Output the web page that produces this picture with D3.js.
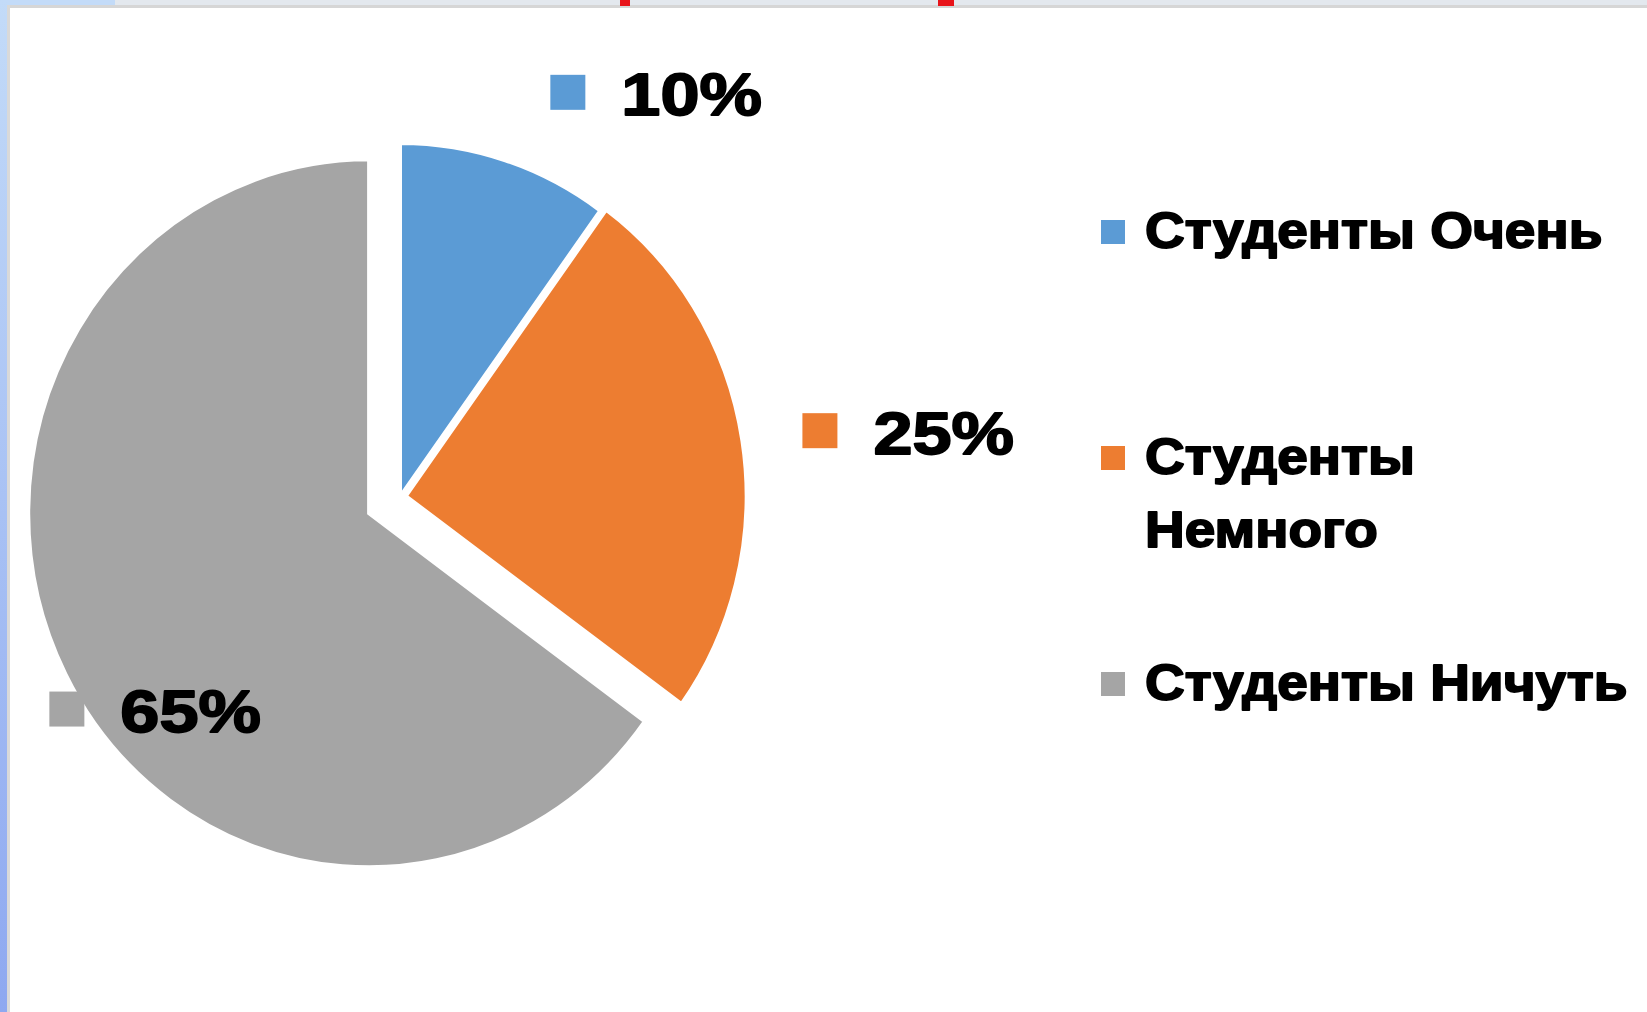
<!DOCTYPE html>
<html><head><meta charset="utf-8">
<script src="https://cdn.jsdelivr.net/npm/d3@7"></script>
<style>body{margin:0;background:#fff;overflow:hidden}svg{display:block}</style>
</head><body><svg id="c" width="1647" height="1012"></svg>
<script>
// ---- data ----
const categories = ["Студенты Очень", "Студенты Немного", "Студенты Ничуть"];
const values = [10, 25, 65];
const labelTexts = ["10%", "25%", "65%"];
const colors = ["#5b9bd5", "#ed7d31", "#a5a5a5"];

// ---- layout / style ----
const W = 1647, H = 1012;
const cx = 400, cy = 497, R = 354, sx = 0.963;
const explode = [0, 6, 36];
const labelOffsets = [[45, -68], [60, -10], [-16, 35]];
const legendX = 1101, legendTextX = 1145, legendRowY = [248, 474, 700], legendLineH = 73;

const svg = d3.select("#c");

// frame decorations (slide background)
const defs = svg.append("defs");
const g1 = defs.append("linearGradient").attr("id", "lb").attr("x1", 0).attr("y1", 0).attr("x2", 0).attr("y2", 1);
g1.append("stop").attr("offset", "0").attr("stop-color", "#c3dbf8");
g1.append("stop").attr("offset", "1").attr("stop-color", "#8ea8f0");
svg.append("rect").attr("x", 0).attr("y", 0).attr("width", W).attr("height", H).attr("fill", "#fff");
svg.append("rect").attr("x", 0).attr("y", 0).attr("width", W).attr("height", 5).attr("fill", "#e3e8ee");
svg.append("rect").attr("x", 0).attr("y", 0).attr("width", 115).attr("height", 5).attr("fill", "#c3dbf8");
svg.append("rect").attr("x", 0).attr("y", 5).attr("width", W).attr("height", 3).attr("fill", "#d6d6d6");
svg.append("rect").attr("x", 620).attr("y", 0).attr("width", 10).attr("height", 6).attr("fill", "#e8141a");
svg.append("rect").attr("x", 938).attr("y", 0).attr("width", 16).attr("height", 6).attr("fill", "#e8141a");
svg.append("rect").attr("x", 0).attr("y", 0).attr("width", 7).attr("height", H).attr("fill", "url(#lb)");
svg.append("rect").attr("x", 7).attr("y", 5).attr("width", 3).attr("height", H - 5).attr("fill", "#d9d9d9");

// pie
const pie = d3.pie().sort(null).value(d => d)(values);
const arc = d3.arc().innerRadius(0).outerRadius(R);
const pg = svg.append("g").attr("transform", `translate(${cx},${cy}) scale(${sx},1)`);
pg.selectAll("path").data(pie).join("path")
  .attr("d", arc)
  .attr("transform", (d, i) => {
    const m = (d.startAngle + d.endAngle) / 2;
    return `translate(${explode[i] * Math.sin(m)},${-explode[i] * Math.cos(m)})`;
  })
  .attr("fill", (d, i) => colors[i])
  .attr("stroke", "#fff").attr("stroke-width", 4)
  .attr("vector-effect", "non-scaling-stroke")
  .attr("stroke-linejoin", "miter");

const font = "'Liberation Sans', Arial, sans-serif";
function heavy(sel, size) {
  sel.attr("font-family", font).attr("font-weight", "bold").attr("font-size", size)
    .attr("fill", "#000").attr("stroke", "#000").attr("stroke-width", 1.8).attr("stroke-linejoin", "round");
}

// data labels
pie.forEach((d, i) => {
  const m = (d.startAngle + d.endAngle) / 2;
  const rr = R + explode[i];
  const px = cx + sx * rr * Math.sin(m) + labelOffsets[i][0];
  const py = cy - rr * Math.cos(m) + labelOffsets[i][1];
  svg.append("rect").attr("x", px).attr("y", py - 17.5).attr("width", 35).attr("height", 35).attr("fill", colors[i]);
  const t = svg.append("text").attr("x", px + 71).attr("y", py + 23).text(labelTexts[i]);
  heavy(t, 60);
  const nat = t.node().getComputedTextLength();
  t.attr("textLength", nat * 1.17).attr("lengthAdjust", "spacingAndGlyphs");
});

// legend
categories.forEach((c, i) => {
  const y = legendRowY[i];
  svg.append("rect").attr("x", legendX).attr("y", y - 28).attr("width", 24).attr("height", 24).attr("fill", colors[i]);
  const probe = svg.append("text").text(c);
  heavy(probe, 50);
  const full = probe.node().getComputedTextLength();
  probe.remove();
  const lines = full > 450 ? c.split(" ") : [c];
  lines.forEach((ln, j) => {
    const t = svg.append("text").attr("x", legendTextX).attr("y", y + j * legendLineH).text(ln);
    heavy(t, 50);
    const nat = t.node().getComputedTextLength();
    t.attr("textLength", nat * 1.10).attr("lengthAdjust", "spacingAndGlyphs");
  });
});
</script>
</body></html>
